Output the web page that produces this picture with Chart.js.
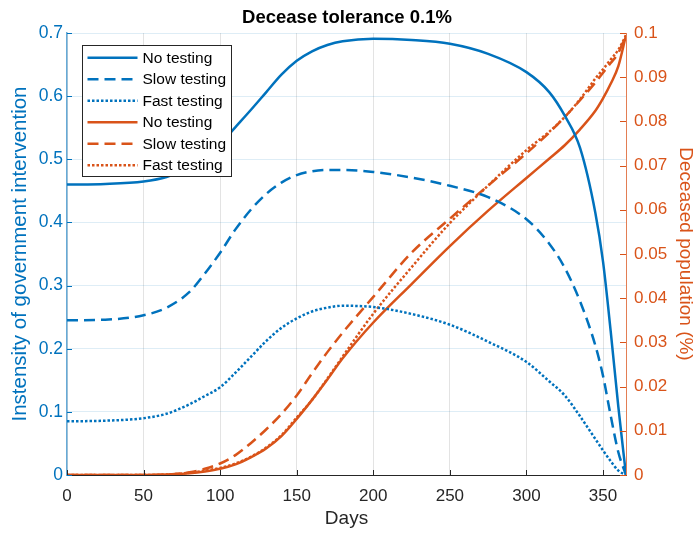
<!DOCTYPE html>
<html>
<head>
<meta charset="utf-8">
<script src="https://cdn.jsdelivr.net/npm/chart.js@4.4.1/dist/chart.umd.min.js"></script>
<style>
  html, body { margin: 0; padding: 0; background: #fff; }
  #chart { display: block; }
</style>
</head>
<body>
<canvas id="chart" width="694" height="533"></canvas>
<script>
// days sampled along the curves
const days = [0, 25, 50, 65, 80, 90, 100, 110, 120, 130, 140, 150, 160, 170, 180, 200, 225, 250, 275, 300, 315, 325, 335, 345, 350, 355, 360, 365];

// intensity of government intervention (left axis)
const interventionNoTesting   = [0.460, 0.461, 0.465, 0.472, 0.487, 0.503, 0.524, 0.551, 0.578, 0.606, 0.634, 0.656, 0.671, 0.681, 0.687, 0.691, 0.689, 0.683, 0.667, 0.638, 0.606, 0.569, 0.518, 0.415, 0.338, 0.228, 0.108, 0];
const interventionSlowTesting = [0.245, 0.246, 0.253, 0.265, 0.290, 0.319, 0.352, 0.389, 0.420, 0.445, 0.463, 0.475, 0.481, 0.483, 0.483, 0.480, 0.471, 0.458, 0.440, 0.405, 0.366, 0.328, 0.275, 0.205, 0.157, 0.094, 0.036, 0];
const interventionFastTesting = [0.085, 0.086, 0.090, 0.097, 0.112, 0.125, 0.139, 0.162, 0.187, 0.212, 0.233, 0.248, 0.259, 0.265, 0.268, 0.266, 0.255, 0.238, 0.211, 0.179, 0.148, 0.126, 0.093, 0.057, 0.039, 0.022, 0.007, 0];

// deceased population in % (right axis)
const deceasedNoTesting   = [0, 0, 0, 0.0001, 0.0004, 0.0008, 0.0014, 0.0024, 0.0040, 0.0060, 0.0088, 0.0127, 0.0170, 0.0216, 0.0264, 0.0345, 0.0432, 0.0518, 0.0598, 0.0672, 0.0716, 0.0746, 0.0782, 0.0824, 0.0852, 0.0885, 0.0925, 0.0995];
const deceasedSlowTesting = [0, 0, 0, 0.0001, 0.0006, 0.0014, 0.0026, 0.0045, 0.0072, 0.0103, 0.0138, 0.0180, 0.0230, 0.0278, 0.0322, 0.0403, 0.0503, 0.0580, 0.0655, 0.0728, 0.0775, 0.0810, 0.0848, 0.0888, 0.0910, 0.0932, 0.0955, 0.0995];
const deceasedFastTesting = [0, 0, 0, 0.0001, 0.0005, 0.0010, 0.0016, 0.0026, 0.0041, 0.0062, 0.0090, 0.0130, 0.0170, 0.0218, 0.0268, 0.0365, 0.0470, 0.0570, 0.0655, 0.0735, 0.0777, 0.0810, 0.0850, 0.0897, 0.0918, 0.0940, 0.0962, 0.0995];

const seriesLabels = ['No testing', 'Slow testing', 'Fast testing'];
const BLUE = '#0072BD';
const ORANGE = '#D95319';
const FONT = "'Liberation Sans', Arial, Helvetica, sans-serif";
const DASHES = [[], [11, 6], [2.5, 2]];

const toPoints = arr => days.map((d, i) => ({ x: d, y: arr[i] }));

function makeSet(label, values, color, dash, axis) {
  return {
    label: label,
    data: toPoints(values),
    borderColor: color,
    backgroundColor: color,
    borderWidth: 2.5,
    borderDash: dash,
    pointRadius: 0,
    cubicInterpolationMode: 'monotone',
    fill: false,
    yAxisID: axis
  };
}

const datasets = [
  makeSet(seriesLabels[0], interventionNoTesting, BLUE, DASHES[0], 'y'),
  makeSet(seriesLabels[1], interventionSlowTesting, BLUE, DASHES[1], 'y'),
  makeSet(seriesLabels[2], interventionFastTesting, BLUE, DASHES[2], 'y'),
  makeSet(seriesLabels[0], deceasedNoTesting, ORANGE, DASHES[0], 'y1'),
  makeSet(seriesLabels[1], deceasedSlowTesting, ORANGE, DASHES[1], 'y1'),
  makeSet(seriesLabels[2], deceasedFastTesting, ORANGE, DASHES[2], 'y1')
];

const fmt = v => String(+Number(v).toFixed(3));

// inward tick marks, matlab style
const innerTicks = {
  id: 'innerTicks',
  afterDatasetsDraw(chart) {
    const ctx = chart.ctx;
    const area = chart.chartArea;
    ctx.save();
    ctx.lineWidth = 1;
    const xs = chart.scales.x;
    ctx.strokeStyle = '#262626';
    xs.ticks.forEach(t => {
      const px = Math.round(xs.getPixelForValue(t.value)) + 0.5;
      ctx.beginPath(); ctx.moveTo(px, area.bottom); ctx.lineTo(px, area.bottom - 5); ctx.stroke();
    });
    const yl = chart.scales.y;
    ctx.strokeStyle = BLUE;
    yl.ticks.forEach(t => {
      const py = Math.round(yl.getPixelForValue(t.value)) + 0.5;
      ctx.beginPath(); ctx.moveTo(area.left, py); ctx.lineTo(area.left + 5, py); ctx.stroke();
    });
    const yr = chart.scales.y1;
    ctx.strokeStyle = ORANGE;
    yr.ticks.forEach(t => {
      const py = Math.round(yr.getPixelForValue(t.value)) + 0.5;
      ctx.beginPath(); ctx.moveTo(area.right, py); ctx.lineTo(area.right - 6, py); ctx.stroke();
    });
    ctx.restore();
  }
};

// legend box in the upper left corner of the plot
const boxLegend = {
  id: 'boxLegend',
  afterDraw(chart) {
    const ctx = chart.ctx;
    const x0 = 82.5, y0 = 45.5, w = 149, h = 131, rowH = 21.5, firstRow = 57.7;
    ctx.save();
    ctx.fillStyle = '#fff';
    ctx.fillRect(x0, y0, w, h);
    ctx.strokeStyle = '#262626';
    ctx.lineWidth = 1;
    ctx.strokeRect(x0, y0, w, h);
    ctx.font = '15.5px ' + FONT;
    ctx.textBaseline = 'middle';
    ctx.textAlign = 'left';
    chart.data.datasets.forEach((ds, i) => {
      const y = firstRow + i * rowH;
      ctx.strokeStyle = ds.borderColor;
      ctx.lineWidth = ds.borderWidth;
      ctx.setLineDash(ds.borderDash);
      ctx.beginPath(); ctx.moveTo(87.5, y); ctx.lineTo(137.5, y); ctx.stroke();
      ctx.setLineDash([]);
      ctx.fillStyle = '#000';
      ctx.fillText(ds.label, 142.5, y + 1);
    });
    ctx.restore();
  }
};

new Chart(document.getElementById('chart'), {
  type: 'line',
  data: { datasets: datasets },
  plugins: [innerTicks, boxLegend],
  options: {
    responsive: false,
    animation: false,
    events: [],
    layout: { padding: { top: 0, left: 0, right: 0, bottom: 0 } },
    plugins: {
      legend: { display: false },
      tooltip: { enabled: false },
      title: {
        display: true,
        text: 'Decease tolerance 0.1%',
        color: '#000',
        font: { family: FONT, size: 18.5, weight: 'bold' },
        padding: { top: 7, bottom: 3.8 }
      }
    },
    scales: {
      x: {
        type: 'linear',
        min: 0,
        max: 365,
        afterFit: s => { s.height = 58; },
        ticks: {
          stepSize: 50,
          includeBounds: false,
          color: '#262626',
          padding: 11,
          font: { family: FONT, size: 17 },
          callback: fmt
        },
        grid: { color: 'rgba(38,38,38,0.13)', drawTicks: false },
        border: { color: '#262626', width: 1 },
        title: {
          display: true,
          text: 'Days',
          color: '#262626',
          font: { family: FONT, size: 19 },
          padding: { top: 0, bottom: 2.5 }
        }
      },
      y: {
        position: 'left',
        min: 0,
        max: 0.7,
        afterFit: s => { s.width = 67; },
        ticks: {
          stepSize: 0.1,
          color: BLUE,
          padding: 4,
          font: { family: FONT, size: 17.5 },
          callback: fmt
        },
        grid: { color: 'rgba(0,114,189,0.13)', drawTicks: false },
        border: { color: 'rgba(0,114,189,0.6)', width: 1.5 },
        title: {
          display: true,
          text: 'Instensity of government intervention',
          color: BLUE,
          font: { family: FONT, size: 20.5 },
          padding: { top: 8, bottom: 0 }
        }
      },
      y1: {
        position: 'right',
        min: 0,
        max: 0.1,
        afterFit: s => { s.width = 68; },
        ticks: {
          stepSize: 0.01,
          color: ORANGE,
          padding: 8,
          font: { family: FONT, size: 17 },
          callback: fmt
        },
        grid: { drawOnChartArea: false, drawTicks: false },
        border: { color: 'rgba(217,83,25,0.75)', width: 1 },
        title: {
          display: true,
          text: 'Deceased population (%)',
          color: ORANGE,
          font: { family: FONT, size: 19 },
          padding: { top: -3, bottom: 0 }
        }
      }
    }
  }
});
</script>
</body>
</html>
